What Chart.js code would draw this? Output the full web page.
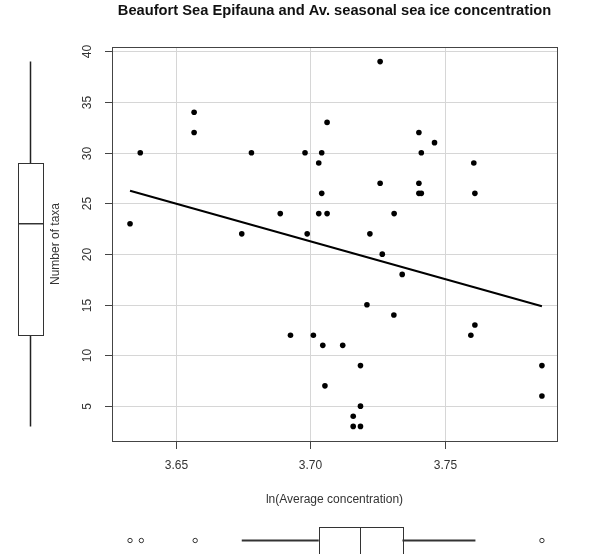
<!DOCTYPE html>
<html>
<head>
<meta charset="utf-8">
<script src="https://cdn.jsdelivr.net/npm/chart.js@4/dist/chart.umd.min.js"></script>
<style>
  html, body { margin: 0; padding: 0; background: #fff; }
  #wrap { width: 589px; height: 554px; }
</style>
</head>
<body>
<div id="wrap"><canvas id="chart" width="589" height="554"></canvas></div>
<script>
// --- DATA ---
// ln(average seasonal ice concentration) per station
const concentration = [
  3.633, 3.6368, 3.6568, 3.6568, 3.6781, 3.6888, 3.6745, 3.7259, 3.7062, 3.7403,
  3.7461, 3.698, 3.7042, 3.7412, 3.7031, 3.7607, 3.7259, 3.7403, 3.7042, 3.7403,
  3.7412, 3.7611, 3.7031, 3.7062, 3.7311, 3.6988, 3.7221, 3.6926, 3.7267, 3.7341,
  3.721, 3.731, 3.7611, 3.7596, 3.7011, 3.7046, 3.712, 3.7186, 3.786, 3.7054,
  3.7186, 3.786, 3.7159, 3.7159, 3.7186
];
// number of epifaunal taxa per station
const taxa = [
  23, 30, 34, 32, 30, 24, 22, 39, 33, 32,
  31, 30, 30, 30, 29, 29, 27, 27, 26, 26,
  26, 26, 24, 24, 24, 22, 22, 12, 20, 18,
  15, 14, 13, 12, 12, 11, 11, 9, 9, 7,
  5, 6, 4, 3, 3
];

// fitted regression line (endpoints)
const fitX = [3.633, 3.786];
const fitY = [26.25, 14.85];

// marginal boxplots: [lower whisker, Q1, median, Q3, upper whisker]
const taxaBox = [3, 12, 23, 29, 39];
const concBox = [3.6745, 3.7031, 3.7186, 3.7342, 3.7613];
const concOutliers = [3.633, 3.6372, 3.6572, 3.786];

// axis ticks
const xTicks = [3.65, 3.70, 3.75];
const xTickLabels = ["3.65", "3.70", "3.75"];
const yTicks = [5, 10, 15, 20, 25, 30, 35, 40];

const FONT = '"Liberation Sans", Arial, sans-serif';

// grid + frame behind the points, everything else on top
const decorations = {
  id: "decorations",
  beforeDatasetsDraw(chart) {
    const { ctx, chartArea: a, scales: { x, y } } = chart;
    ctx.save();
    ctx.strokeStyle = "#d6d6d6";
    ctx.lineWidth = 1;
    xTicks.forEach(v => {
      const px = Math.round(x.getPixelForValue(v)) + 0.5;
      ctx.beginPath(); ctx.moveTo(px, a.top); ctx.lineTo(px, a.bottom); ctx.stroke();
    });
    yTicks.forEach(v => {
      const py = Math.round(y.getPixelForValue(v)) + 0.5;
      ctx.beginPath(); ctx.moveTo(a.left, py); ctx.lineTo(a.right, py); ctx.stroke();
    });
    ctx.restore();
  },
  afterDatasetsDraw(chart) {
    const { ctx, chartArea: a, scales: { x, y } } = chart;
    ctx.save();

    // frame
    ctx.strokeStyle = "#444";
    ctx.lineWidth = 1;
    ctx.strokeRect(Math.round(a.left) + 0.5, Math.round(a.top) + 0.5,
      Math.round(a.right - a.left), Math.round(a.bottom - a.top));

    // tick marks + labels
    ctx.fillStyle = "#333";
    ctx.font = "12px " + FONT;
    ctx.textAlign = "center";
    ctx.textBaseline = "middle";
    xTicks.forEach((v, i) => {
      const px = Math.round(x.getPixelForValue(v)) + 0.5;
      ctx.beginPath(); ctx.moveTo(px, a.bottom); ctx.lineTo(px, a.bottom + 8); ctx.stroke();
      ctx.fillText(xTickLabels[i], px, a.bottom + 25);
    });
    yTicks.forEach(v => {
      const py = Math.round(y.getPixelForValue(v)) + 0.5;
      ctx.beginPath(); ctx.moveTo(a.left - 7, py); ctx.lineTo(a.left, py); ctx.stroke();
      ctx.save();
      ctx.translate(88, py);
      ctx.rotate(-Math.PI / 2);
      ctx.fillText(String(v), 0, 0);
      ctx.restore();
    });

    // axis titles
    ctx.fillText("ln(Average concentration)", (a.left + a.right) / 2, 500);
    ctx.save();
    ctx.translate(56, (a.top + a.bottom) / 2);
    ctx.rotate(-Math.PI / 2);
    ctx.fillText("Number of taxa", 0, 0);
    ctx.restore();

    // main title
    ctx.font = "bold 14.7px " + FONT;
    ctx.fillStyle = "#111";
    ctx.textBaseline = "alphabetic";
    ctx.fillText("Beaufort Sea Epifauna and Av. seasonal sea ice concentration", (a.left + a.right) / 2, 15);

    // vertical boxplot of taxa (left margin)
    const [lo, q1, med, q3, hi] = taxaBox.map(v => y.getPixelForValue(v));
    ctx.strokeStyle = "#222";
    ctx.lineWidth = 1.5;
    ctx.beginPath();
    ctx.moveTo(30.5, lo); ctx.lineTo(30.5, q1);
    ctx.moveTo(30.5, q3); ctx.lineTo(30.5, hi);
    ctx.stroke();
    ctx.lineWidth = 1;
    ctx.strokeStyle = "#333";
    ctx.strokeRect(18.5, Math.round(q3) + 0.5, 25, Math.round(q1 - q3));
    ctx.lineWidth = 1.5;
    ctx.beginPath(); ctx.moveTo(18.5, med); ctx.lineTo(43.5, med); ctx.stroke();

    // horizontal boxplot of concentration (bottom margin)
    const [xlo, xq1, xmed, xq3, xhi] = concBox.map(v => x.getPixelForValue(v));
    const cy = 540.5;
    ctx.strokeStyle = "#333";
    ctx.lineWidth = 2;
    ctx.beginPath();
    ctx.moveTo(xlo, cy); ctx.lineTo(xq1, cy);
    ctx.moveTo(xq3, cy); ctx.lineTo(xhi, cy);
    ctx.stroke();
    ctx.lineWidth = 1;
    ctx.strokeRect(Math.round(xq1) + 0.5, 527.5, Math.round(xq3 - xq1), 28);
    ctx.beginPath(); ctx.moveTo(Math.round(xmed) + 0.5, 527.5); ctx.lineTo(Math.round(xmed) + 0.5, 554); ctx.stroke();
    concOutliers.forEach(v => {
      ctx.beginPath();
      ctx.arc(x.getPixelForValue(v), cy, 2.2, 0, Math.PI * 2);
      ctx.stroke();
    });

    ctx.restore();
  }
};

const points = concentration.map((c, i) => ({ x: c, y: taxa[i] }));
const fitLine = fitX.map((c, i) => ({ x: c, y: fitY[i] }));

new Chart(document.getElementById("chart"), {
  type: "scatter",
  data: {
    datasets: [
      {
        label: "Stations",
        data: points,
        backgroundColor: "#000",
        borderWidth: 0,
        pointRadius: 2.8,
      },
      {
        label: "Linear fit",
        data: fitLine,
        showLine: true,
        borderColor: "#000",
        borderWidth: 2,
        pointRadius: 0,
      }
    ]
  },
  options: {
    responsive: false,
    devicePixelRatio: 1,
    animation: false,
    layout: { padding: { left: 112, top: 47, right: 32, bottom: 113 } },
    plugins: { legend: { display: false }, tooltip: { enabled: false } },
    scales: {
      x: { type: "linear", min: 3.6263, max: 3.7916, display: false },
      y: { type: "linear", min: 1.56, max: 40.44, display: false }
    }
  },
  plugins: [decorations]
});
</script>
</body>
</html>
